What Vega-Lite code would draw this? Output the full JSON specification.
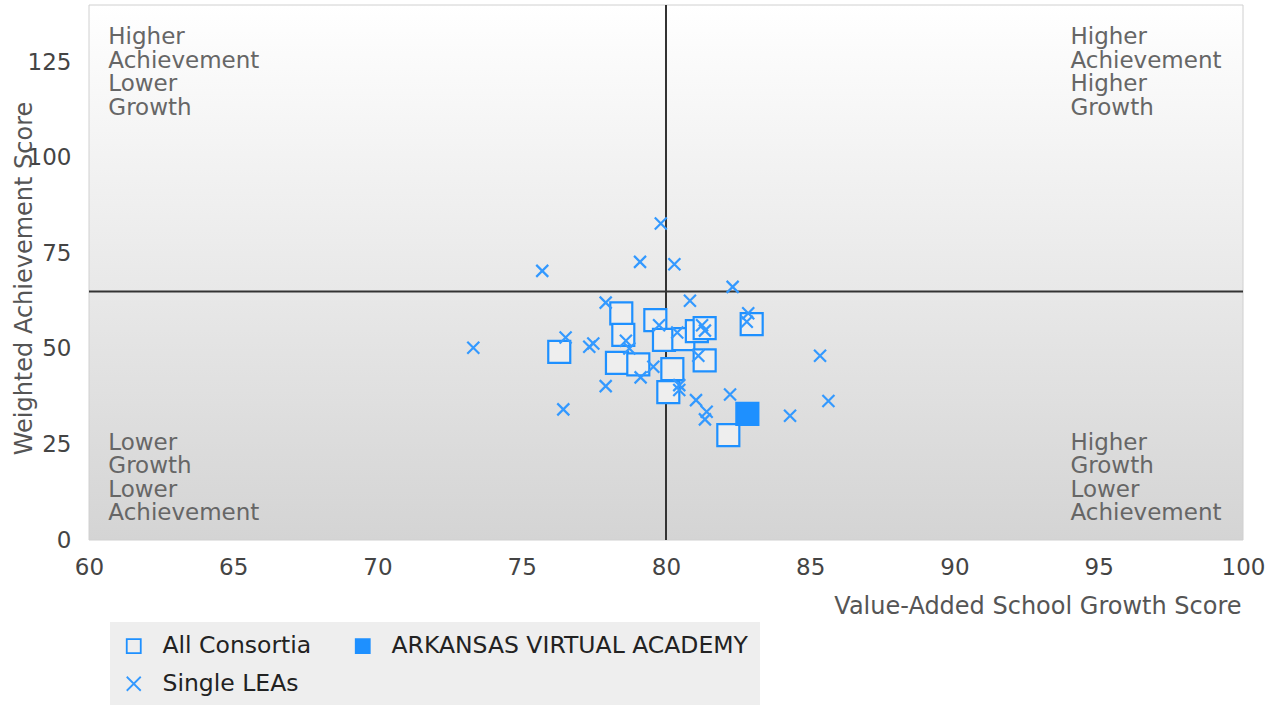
{
  "$schema": "https://vega.github.io/schema/vega-lite/v6.json",
  "width": 1154,
  "height": 535,
  "autosize": {"type": "none"},
  "padding": {"left": 89, "top": 5, "right": 29, "bottom": 165},
  "background": "#ffffff",
  "config": {
    "font": "DejaVu Sans",
    "view": {"stroke": null},
    "axis": {"grid": false, "ticks": false, "domain": false, "labelFlush": false, "labelFont": "DejaVu Sans", "titleFont": "DejaVu Sans", "labelColor": "#444444", "titleColor": "#555555", "titleFontWeight": "normal"},
    "legend": {"labelFont": "DejaVu Sans", "labelColor": "#222222", "orient": "none", "legendX": 21, "legendY": 617, "direction": "horizontal", "columns": 2, "fillColor": "#eeeeee", "padding": 12, "symbolOffset": 0, "symbolSize": 196, "symbolStrokeWidth": 1.8, "labelFontSize": 23.5, "labelOffset": 17, "columnPadding": 39, "rowPadding": 13, "labelLimit": 600}
  },
  "datasets": {
    "points": [
      {"type": "All Consortia", "x": 76.30, "y": 49.24},
      {"type": "All Consortia", "x": 78.45, "y": 59.28},
      {"type": "All Consortia", "x": 78.52, "y": 53.69},
      {"type": "All Consortia", "x": 78.30, "y": 46.36},
      {"type": "All Consortia", "x": 79.04, "y": 45.95},
      {"type": "All Consortia", "x": 79.63, "y": 57.53},
      {"type": "All Consortia", "x": 79.93, "y": 52.38},
      {"type": "All Consortia", "x": 80.60, "y": 52.56},
      {"type": "All Consortia", "x": 81.07, "y": 54.65},
      {"type": "All Consortia", "x": 81.34, "y": 55.44},
      {"type": "All Consortia", "x": 81.34, "y": 46.99},
      {"type": "All Consortia", "x": 80.22, "y": 44.72},
      {"type": "All Consortia", "x": 80.08, "y": 38.70},
      {"type": "All Consortia", "x": 82.97, "y": 56.49},
      {"type": "All Consortia", "x": 82.16, "y": 27.46},
      {"type": "ARKANSAS VIRTUAL ACADEMY", "x": 82.82, "y": 33.03},
      {"type": "Single LEAs", "x": 79.82, "y": 82.82},
      {"type": "Single LEAs", "x": 79.10, "y": 72.78},
      {"type": "Single LEAs", "x": 75.71, "y": 70.42},
      {"type": "Single LEAs", "x": 80.29, "y": 72.18},
      {"type": "Single LEAs", "x": 82.31, "y": 66.24},
      {"type": "Single LEAs", "x": 77.91, "y": 62.11},
      {"type": "Single LEAs", "x": 80.83, "y": 62.63},
      {"type": "Single LEAs", "x": 82.85, "y": 59.36},
      {"type": "Single LEAs", "x": 82.80, "y": 57.09},
      {"type": "Single LEAs", "x": 79.76, "y": 56.22},
      {"type": "Single LEAs", "x": 80.39, "y": 54.31},
      {"type": "Single LEAs", "x": 81.25, "y": 56.22},
      {"type": "Single LEAs", "x": 81.35, "y": 54.79},
      {"type": "Single LEAs", "x": 81.12, "y": 48.20},
      {"type": "Single LEAs", "x": 79.56, "y": 45.32},
      {"type": "Single LEAs", "x": 79.12, "y": 42.55},
      {"type": "Single LEAs", "x": 80.46, "y": 40.53},
      {"type": "Single LEAs", "x": 80.46, "y": 39.23},
      {"type": "Single LEAs", "x": 81.04, "y": 36.61},
      {"type": "Single LEAs", "x": 81.41, "y": 33.55},
      {"type": "Single LEAs", "x": 81.35, "y": 31.56},
      {"type": "Single LEAs", "x": 82.22, "y": 38.10},
      {"type": "Single LEAs", "x": 84.30, "y": 32.51},
      {"type": "Single LEAs", "x": 85.34, "y": 48.20},
      {"type": "Single LEAs", "x": 85.63, "y": 36.35},
      {"type": "Single LEAs", "x": 73.32, "y": 50.29},
      {"type": "Single LEAs", "x": 76.52, "y": 53.01},
      {"type": "Single LEAs", "x": 77.34, "y": 50.55},
      {"type": "Single LEAs", "x": 77.48, "y": 51.44},
      {"type": "Single LEAs", "x": 78.61, "y": 52.12},
      {"type": "Single LEAs", "x": 78.73, "y": 50.13},
      {"type": "Single LEAs", "x": 77.91, "y": 40.27},
      {"type": "Single LEAs", "x": 76.44, "y": 34.18}
    ],
    "quads": [
      {"label": "Higher\nAchievement\nLower\nGrowth", "qx": 60.67, "qy": 134.5},
      {"label": "Higher\nAchievement\nHigher\nGrowth", "qx": 94.02, "qy": 134.5},
      {"label": "Lower\nGrowth\nLower\nAchievement", "qx": 60.67, "qy": 28.3},
      {"label": "Higher\nGrowth\nLower\nAchievement", "qx": 94.02, "qy": 28.3}
    ]
  },
  "layer": [
    {
      "data": {"values": [{}]},
      "mark": {
        "type": "rect",
        "stroke": "#d0d0d0",
        "strokeWidth": 1,
        "fill": {"gradient": "linear", "x1": 0, "y1": 0, "x2": 0, "y2": 1, "stops": [{"offset": 0, "color": "#ffffff"}, {"offset": 1, "color": "#d4d4d4"}]}
      },
      "encoding": {
        "x": {"datum": 60, "type": "quantitative", "scale": {"domain": [60, 100], "nice": false, "zero": false}},
        "x2": {"datum": 100},
        "y": {"datum": 0, "type": "quantitative", "scale": {"domain": [0, 140], "nice": false}},
        "y2": {"datum": 140}
      }
    },
    {
      "data": {"name": "quads"},
      "mark": {"type": "text", "align": "left", "baseline": "top", "fontSize": 23, "lineHeight": 23.5, "lineBreak": "\n", "color": "#666666", "font": "DejaVu Sans"},
      "encoding": {
        "x": {"field": "qx", "type": "quantitative"},
        "y": {"field": "qy", "type": "quantitative"},
        "text": {"field": "label"}
      }
    },
    {
      "data": {"values": [{}]},
      "mark": {"type": "rule", "color": "#333333", "strokeWidth": 2},
      "encoding": {"x": {"datum": 80, "type": "quantitative"}}
    },
    {
      "data": {"values": [{}]},
      "mark": {"type": "rule", "color": "#333333", "strokeWidth": 2},
      "encoding": {"y": {"datum": 65, "type": "quantitative"}}
    },
    {
      "data": {"name": "points"},
      "mark": {"type": "point", "opacity": 1, "strokeWidth": 2.2},
      "encoding": {
        "x": {
          "field": "x", "type": "quantitative",
          "scale": {"domain": [60, 100], "nice": false, "zero": false},
          "axis": {"values": [60, 65, 70, 75, 80, 85, 90, 95, 100], "labelFontSize": 23, "labelPadding": 16, "title": "Value-Added School Growth Score", "titleFontSize": 24, "titleAnchor": "end", "titleAlign": "right", "titleX": 1152, "titleY": 73, "titleBaseline": "alphabetic"}
        },
        "y": {
          "field": "y", "type": "quantitative",
          "scale": {"domain": [0, 140], "nice": false},
          "axis": {"values": [0, 25, 50, 75, 100, 125], "labelFontSize": 23, "labelPadding": 18, "title": "Weighted Achievement Score", "titleFontSize": 24, "titleX": -58, "titleY": 273, "titleAlign": "center", "titleBaseline": "alphabetic", "titleAngle": -90}
        },
        "shape": {
          "field": "type", "type": "nominal",
          "scale": {"domain": ["All Consortia", "ARKANSAS VIRTUAL ACADEMY", "Single LEAs"], "range": ["square", "square", "M-1,-1L1,1M1,-1L-1,1"]},
          "legend": {"title": null}
        },
        "fill": {
          "field": "type", "type": "nominal",
          "scale": {"domain": ["All Consortia", "ARKANSAS VIRTUAL ACADEMY", "Single LEAs"], "range": ["#eeeeee", "#1e90ff", "transparent"]},
          "legend": {"title": null}
        },
        "stroke": {
          "field": "type", "type": "nominal",
          "scale": {"domain": ["All Consortia", "ARKANSAS VIRTUAL ACADEMY", "Single LEAs"], "range": ["#1e90ff", "#1e90ff", "#3399ff"]},
          "legend": {"title": null}
        },
        "size": {
          "condition": {"test": "datum.type === 'Single LEAs'", "value": 144},
          "value": 484
        }
      }
    }
  ]
}
